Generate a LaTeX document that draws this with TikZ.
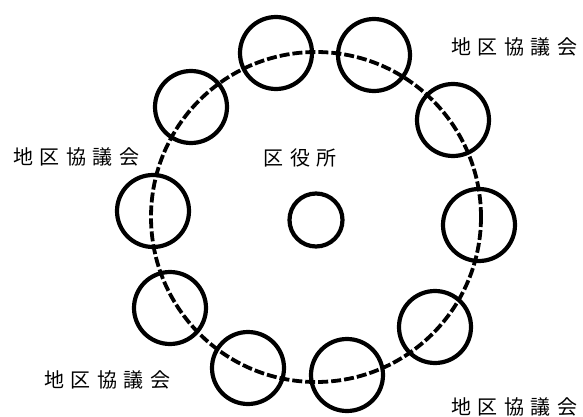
\documentclass[tikz,border=0pt]{standalone}
\usepackage{fontspec}
\newfontfamily\jpfont{Noto Sans CJK JP}
\newcommand{\gapk}{\kern6.5pt}
\tikzset{
  ring/.style={draw=black, line width=4.2pt, circle, minimum size=72pt, inner sep=0pt},
  hub/.style={draw=black, line width=4.2pt, circle, minimum size=53pt, inner sep=0pt},
  orbit/.style={draw=black, line width=3.8pt, dash pattern=on 10pt off 3pt},
  lbl/.style={font=\jpfont\fontsize{20}{20}\selectfont, text=black, inner sep=0pt}
}
\begin{document}
\begin{tikzpicture}[x=1pt,y=-1pt]
\useasboundingbox (0,0) rectangle (583,417);
\fill[white] (0,0) rectangle (583,417);
% big dashed circle
\coordinate (c0) at (316,217);
\draw[orbit] (c0) circle[radius=165];
% small circles
\node[ring] (A) at (276,53) {};
\node[ring] (D) at (374,55) {};
\node[ring] (E) at (453,120) {};
\node[ring] (F) at (479,225) {};
\node[ring] (J) at (435,327) {};
\node[ring] (I) at (347,375) {};
\node[ring] (H) at (248,368) {};
\node[ring] (G) at (170,308) {};
\node[ring] (C) at (153,211) {};
\node[ring] (B) at (191,107) {};
% centre
\node[hub] (hub) at (316,220) {};
% labels
\node[lbl] (t1) at (514,47) {地\gapk 区\gapk 協\gapk 議\gapk 会};
\node[lbl] (t2) at (76,157) {地\gapk 区\gapk 協\gapk 議\gapk 会};
\node[lbl] (t3) at (300,158) {区\gapk 役\gapk 所};
\node[lbl] (t4) at (107,380) {地\gapk 区\gapk 協\gapk 議\gapk 会};
\node[lbl] (t5) at (514,407) {地\gapk 区\gapk 協\gapk 議\gapk 会};
\end{tikzpicture}
\end{document}
